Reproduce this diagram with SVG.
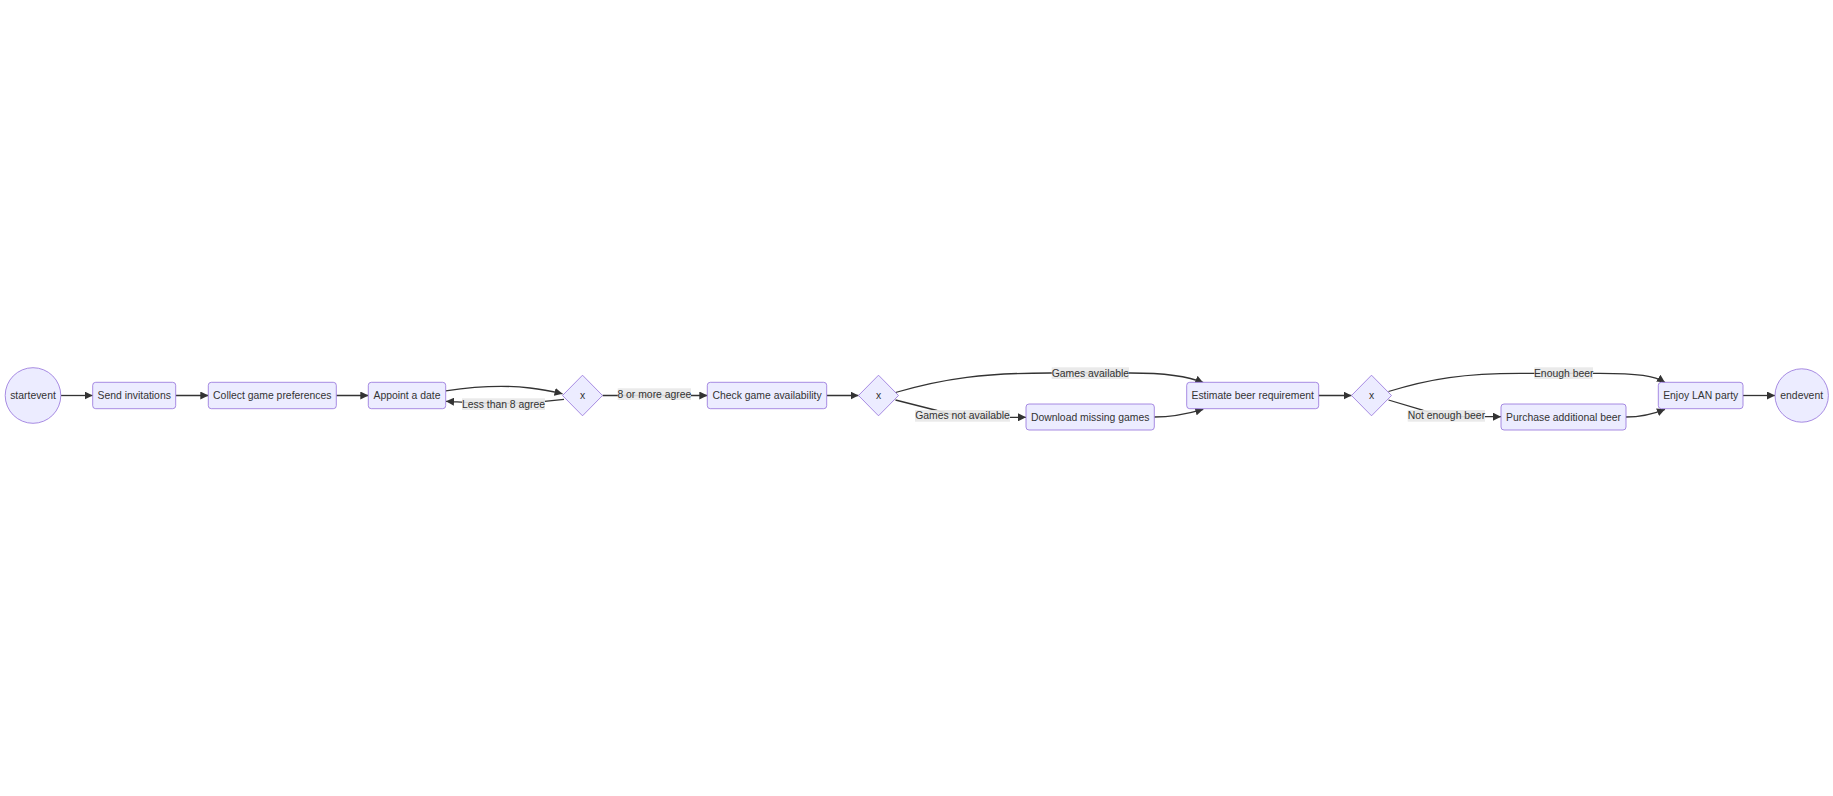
<svg xmlns="http://www.w3.org/2000/svg" width="1833" height="796" viewBox="0 0 1833 796">
<style>
  .node rect, .node circle, .node polygon { fill: #ECECFF; stroke: #9370DB; stroke-width: 0.8; }
  text { font-family: "Liberation Sans", Arial, sans-serif; font-size: 10.4px; fill: #333333; text-anchor: middle; dominant-baseline: central; }
  .edge { fill: none; stroke: #333333; stroke-width: 1.3; }
  .lbl rect { fill: #e8e8e8; opacity: 0.9; }
</style>
<defs>
  <marker id="arrow" viewBox="0 0 10 10" refX="10" refY="5" markerWidth="8" markerHeight="8" markerUnits="userSpaceOnUse" orient="auto">
    <path d="M0,0 L10,5 L0,10 z" fill="#333333"/>
  </marker>
</defs>
<rect width="1833" height="796" fill="#ffffff"/>
<g id="connectors">
  <path class="edge" d="M61,395.5 L92.7,395.5" marker-end="url(#arrow)"/>
  <path class="edge" d="M175.7,395.5 L208.3,395.5" marker-end="url(#arrow)"/>
  <path class="edge" d="M336.3,395.5 L368.3,395.5" marker-end="url(#arrow)"/>
  <path class="edge" d="M445.7,390.8 C475,386.5 505,385 530,388 C545,389.5 553,391.5 562.5,393.8" marker-end="url(#arrow)"/>
  <path class="edge" d="M564,399.3 C540,402.5 520,403.5 500,403.5 C475,403.5 460,402 446,401.3" marker-end="url(#arrow)"/>
  <path class="edge" d="M602.5,395.5 L707.3,395.5" marker-end="url(#arrow)"/>
  <path class="edge" d="M826.7,395.5 L858.5,395.5" marker-end="url(#arrow)"/>
  <path class="edge" d="M895.5,392.5 C945,378 985,373 1050,373 L1130,373 C1165,373 1188,376 1203.3,382.7" marker-end="url(#arrow)"/>
  <path class="edge" d="M895.5,400 L933,409.5 C945,412.5 958,417.3 975,417.3 L1026,417.3" marker-end="url(#arrow)"/>
  <path class="edge" d="M1154.3,417 C1170,417 1185,414.5 1203.3,409.3" marker-end="url(#arrow)"/>
  <path class="edge" d="M1318.7,395.5 L1351.5,395.5" marker-end="url(#arrow)"/>
  <path class="edge" d="M1388.5,391.5 C1430,378.5 1465,373.3 1520,373.3 L1600,373.3 C1638,373.3 1655,376 1665,382.5" marker-end="url(#arrow)"/>
  <path class="edge" d="M1388.5,400 L1420,409.3 C1430,412.5 1440,416.7 1455,416.7 L1501,416.7" marker-end="url(#arrow)"/>
  <path class="edge" d="M1626,417 C1640,417 1652,414.5 1665,409.3" marker-end="url(#arrow)"/>
  <path class="edge" d="M1743,395.5 L1775,395.5" marker-end="url(#arrow)"/>
  <g class="lbl">
    <rect x="462" y="398.3" width="83" height="11.7"/>
    <text x="503.5" y="404.2">Less than 8 agree</text>
  </g>
  <g class="lbl">
    <rect x="617.7" y="388.3" width="73.3" height="11.7"/>
    <text x="654.4" y="394.2">8 or more agree</text>
  </g>
  <g class="lbl">
    <rect x="1051.7" y="367.3" width="77.3" height="11.7"/>
    <text x="1090.4" y="373.2">Games available</text>
  </g>
  <g class="lbl">
    <rect x="915" y="410" width="95" height="11.7"/>
    <text x="962.5" y="415.9">Games not available</text>
  </g>
  <g class="lbl">
    <rect x="1534.3" y="367.3" width="58.7" height="11.7"/>
    <text x="1563.7" y="373.2">Enough beer</text>
  </g>
  <g class="lbl">
    <rect x="1407.7" y="410" width="77.3" height="11.7"/>
    <text x="1446.4" y="415.9">Not enough beer</text>
  </g>
</g>
<g id="startevent" class="node">
  <circle cx="33" cy="395.5" r="27.8"/>
  <text x="33" y="395.5">startevent</text>
</g>
<g id="send-invitations" class="node">
  <rect x="92.7" y="382.3" width="83" height="26.4" rx="3" ry="3"/>
  <text x="134.2" y="395.5">Send invitations</text>
</g>
<g id="collect-game-preferences" class="node">
  <rect x="208.3" y="382.3" width="128" height="26.4" rx="3" ry="3"/>
  <text x="272.3" y="395.5">Collect game preferences</text>
</g>
<g id="appoint-a-date" class="node">
  <rect x="368.3" y="382.3" width="77.4" height="26.4" rx="3" ry="3"/>
  <text x="407" y="395.5">Appoint a date</text>
</g>
<g id="gateway1" class="node">
  <polygon points="582.5,375.2 602.5,395.5 582.5,415.8 562.5,395.5"/>
  <text x="582.5" y="395.5">x</text>
</g>
<g id="check-game-availability" class="node">
  <rect x="707.3" y="382.3" width="119.4" height="26.4" rx="3" ry="3"/>
  <text x="767" y="395.5">Check game availability</text>
</g>
<g id="gateway2" class="node">
  <polygon points="878.5,375.2 898.5,395.5 878.5,415.8 858.5,395.5"/>
  <text x="878.5" y="395.5">x</text>
</g>
<g id="download-missing-games" class="node">
  <rect x="1026" y="404" width="128.3" height="26" rx="3" ry="3"/>
  <text x="1090.2" y="417">Download missing games</text>
</g>
<g id="estimate-beer-requirement" class="node">
  <rect x="1186.7" y="382.3" width="132" height="26.4" rx="3" ry="3"/>
  <text x="1252.7" y="395.5">Estimate beer requirement</text>
</g>
<g id="gateway3" class="node">
  <polygon points="1371.5,375.2 1391.5,395.5 1371.5,415.8 1351.5,395.5"/>
  <text x="1371.5" y="395.5">x</text>
</g>
<g id="purchase-additional-beer" class="node">
  <rect x="1501" y="404" width="125" height="26" rx="3" ry="3"/>
  <text x="1563.5" y="417">Purchase additional beer</text>
</g>
<g id="enjoy-lan-party" class="node">
  <rect x="1658.3" y="382.3" width="84.7" height="26.4" rx="3" ry="3"/>
  <text x="1700.7" y="395.5">Enjoy LAN party</text>
</g>
<g id="endevent" class="node">
  <circle cx="1801.7" cy="395.5" r="26.7"/>
  <text x="1801.7" y="395.5">endevent</text>
</g>
</svg>
